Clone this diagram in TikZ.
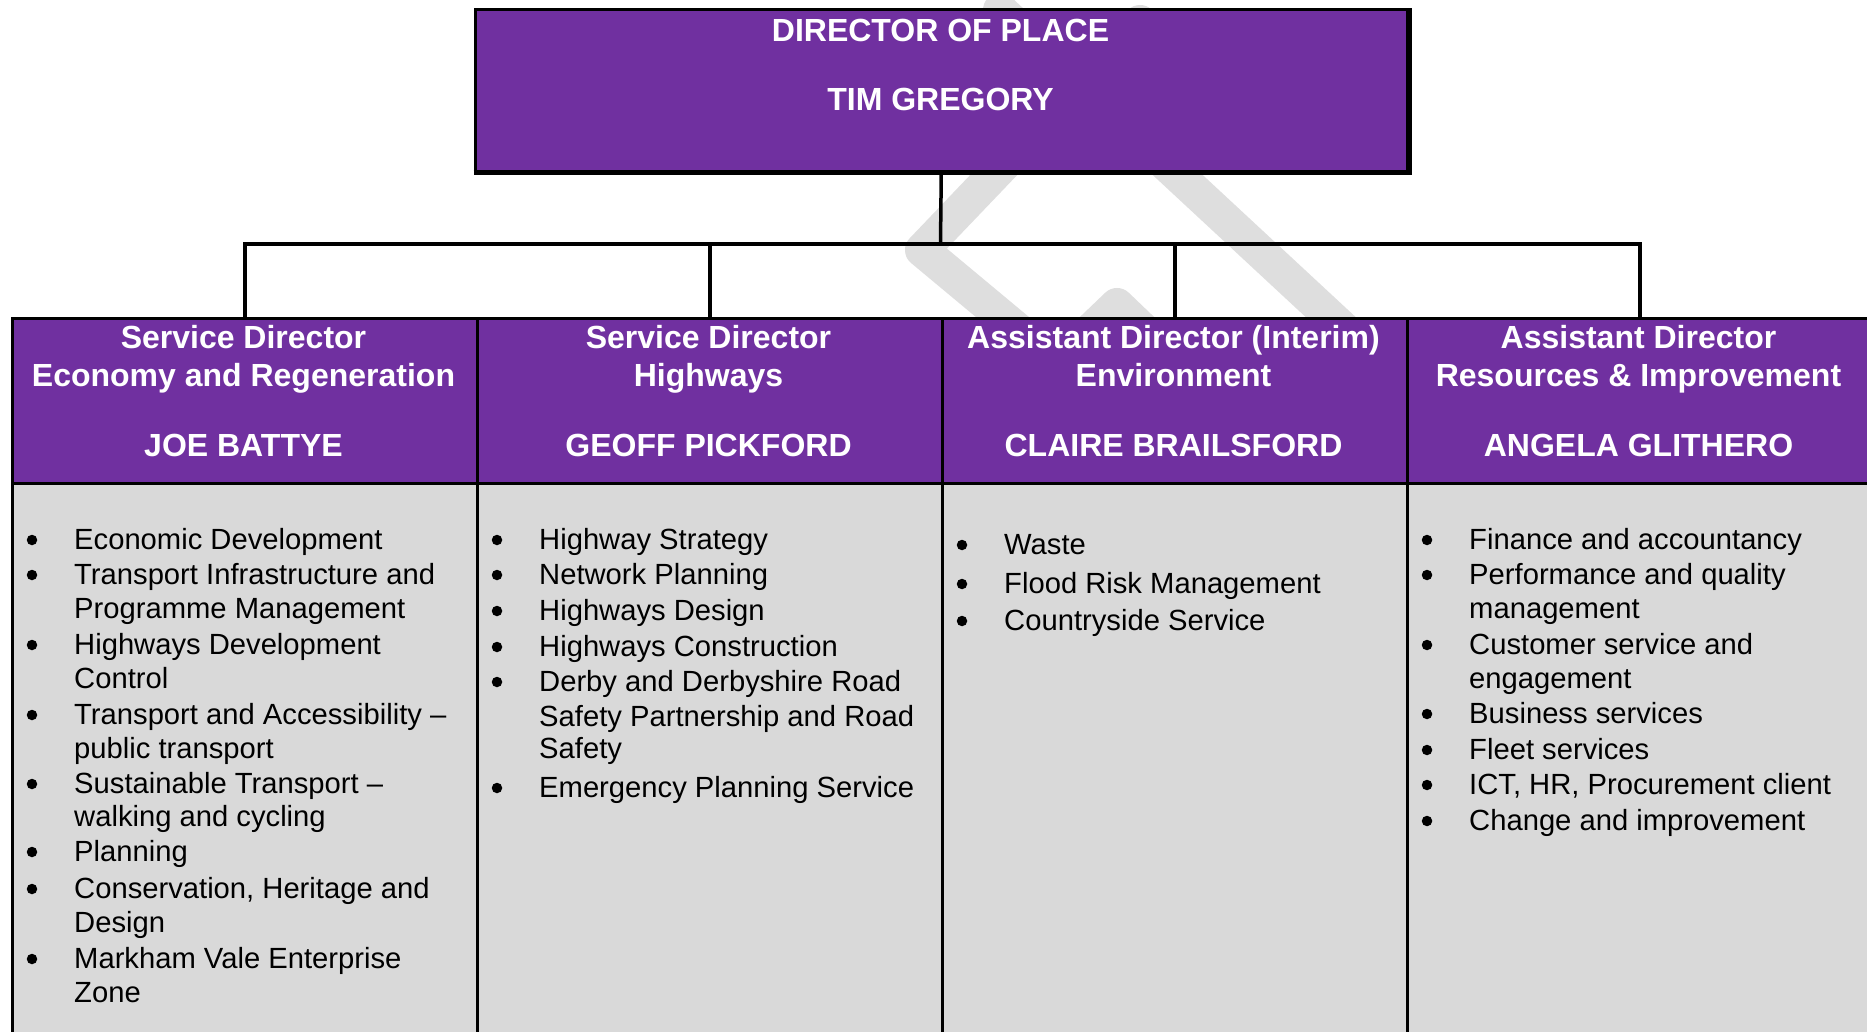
\documentclass[tikz,border=0pt]{standalone}
\usepackage{fontspec}
\setmainfont{Liberation Sans}
\definecolor{purp}{HTML}{7030A0}
\definecolor{bodygray}{HTML}{D9D9D9}
\definecolor{wmgray}{HTML}{DEDEDE}
\newcommand\orgitem[5]{%
  \node[blt] (#1b) at (#2,#4-8) {};
  \node[btxt] (#1) at (#3,#4+1) {#5};}
\newcommand\orgcont[4]{\node[btxt] (#1) at (#2,#3+1) {#4};}
\begin{document}
\begin{tikzpicture}[x=1pt,y=-1pt,
  wm/.style={draw=wmgray, line width=34pt, line cap=round, line join=round},
  topbox/.style={draw=black, line width=3pt, fill=purp, anchor=north west, inner sep=0pt,
    minimum width=932.5pt, minimum height=161.5pt},
  hdr/.style={draw=black, line width=3pt, fill=purp, anchor=north west, inner sep=0pt,
    minimum width=465pt, minimum height=165.5pt},
  bdy/.style={draw=black, line width=3pt, fill=bodygray, anchor=north west, inner sep=0pt,
    minimum width=465pt, minimum height=560pt},
  conn/.style={draw=black, line width=3.5pt},
  htxt/.style={anchor=base, inner sep=0pt, text=white, font=\bfseries\fontsize{32}{38}\selectfont},
  btxt/.style={anchor=base west, inner sep=0pt, text=black, font=\fontsize{29.2}{34}\selectfont},
  blt/.style={circle, fill=black, inner sep=0pt, minimum size=10.5pt}
]
\useasboundingbox (0,0) rectangle (1867,1032);
\clip (0,0) rectangle (1867,1032);
\fill[white] (0,0) rectangle (1867,1032);

% watermark
\draw[wm] (1140,22) -- (922,250) -- (1060,365);
\draw[wm] (1000,10) -- (1420,400);
\draw[wm] (1070,350) -- (1117,305) -- (1164,350);

% top box
\node[topbox] (top) at (473.5,8.5) {};
\draw[line width=5pt, line join=miter] (top.south west) -- (top.south east) -- (top.north east);
\node[htxt] (t1) at (940.5,42) {DIRECTOR OF PLACE};
\node[htxt] (t2) at (940.5,111) {TIM GREGORY};

% columns
\node[bdy] (b1) at (11,482) {};
\node[bdy] (b2) at (476,482) {};
\node[bdy] (b3) at (941,482) {};
\node[bdy] (b4) at (1406,482) {};
\node[hdr] (h1) at (11,316.5) {};
\node[hdr] (h2) at (476,316.5) {};
\node[hdr] (h3) at (941,316.5) {};
\node[hdr] (h4) at (1406,316.5) {};

% connectors
\coordinate (bar) at (940.5,244);
\draw[conn] (top.south) -- (bar);
\draw[conn] (h1.north) -- (h1.north |- bar) -- (h4.north |- bar) -- (h4.north);
\draw[conn] (h2.north) -- (h2.north |- bar);
\draw[conn] (h3.north) -- (h3.north |- bar);

% header texts
\node[htxt] (h1a) at (243.5,348) {Service Director};
\node[htxt] (h1b) at (243.5,386) {Economy and Regeneration};
\node[htxt] (h1c) at (243.5,456) {JOE BATTYE};
\node[htxt] (h2a) at (708.5,348) {Service Director};
\node[htxt] (h2b) at (708.5,386) {Highways};
\node[htxt] (h2c) at (708.5,456) {GEOFF PICKFORD};
\node[htxt] (h3a) at (1173.5,348) {Assistant Director (Interim)};
\node[htxt] (h3b) at (1173.5,386) {Environment};
\node[htxt] (h3c) at (1173.5,456) {CLAIRE BRAILSFORD};
\node[htxt] (h4a) at (1638.5,348) {Assistant Director};
\node[htxt] (h4b) at (1638.5,386) {Resources \& Improvement};
\node[htxt] (h4c) at (1638.5,456) {ANGELA GLITHERO};

% column 1
\orgitem{a1}{32}{74}{548}{Economic Development}
\orgitem{a2}{32}{74}{583}{Transport Infrastructure and}
\orgcont{a2x}{74}{617}{Programme Management}
\orgitem{a3}{32}{74}{653}{Highways Development}
\orgcont{a3x}{74}{687}{Control}
\orgitem{a4}{32}{74}{723}{Transport and Accessibility –}
\orgcont{a4x}{74}{757}{public transport}
\orgitem{a5}{32}{74}{792}{Sustainable Transport –}
\orgcont{a5x}{74}{825}{walking and cycling}
\orgitem{a6}{32}{74}{860}{Planning}
\orgitem{a7}{32}{74}{897}{Conservation, Heritage and}
\orgcont{a7x}{74}{931}{Design}
\orgitem{a8}{32}{74}{967}{Markham Vale Enterprise}
\orgcont{a8x}{74}{1001}{Zone}

% column 2
\orgitem{c1}{497}{539}{548}{Highway Strategy}
\orgitem{c2}{497}{539}{583}{Network Planning}
\orgitem{c3}{497}{539}{619}{Highways Design}
\orgitem{c4}{497}{539}{655}{Highways Construction}
\orgitem{c5}{497}{539}{690}{Derby and Derbyshire Road}
\orgcont{c5x}{539}{725}{Safety Partnership and Road}
\orgcont{c5y}{539}{757}{Safety}
\orgitem{c6}{497}{539}{796}{Emergency Planning Service}

% column 3
\orgitem{e1}{962}{1004}{553}{Waste}
\orgitem{e2}{962}{1004}{592}{Flood Risk Management}
\orgitem{e3}{962}{1004}{629}{Countryside Service}

% column 4
\orgitem{r1}{1427}{1469}{548}{Finance and accountancy}
\orgitem{r2}{1427}{1469}{583}{Performance and quality}
\orgcont{r2x}{1469}{617}{management}
\orgitem{r3}{1427}{1469}{653}{Customer service and}
\orgcont{r3x}{1469}{687}{engagement}
\orgitem{r4}{1427}{1469}{722}{Business services}
\orgitem{r5}{1427}{1469}{758}{Fleet services}
\orgitem{r6}{1427}{1469}{793}{ICT, HR, Procurement client}
\orgitem{r7}{1427}{1469}{829}{Change and improvement}
\end{tikzpicture}
\end{document}
